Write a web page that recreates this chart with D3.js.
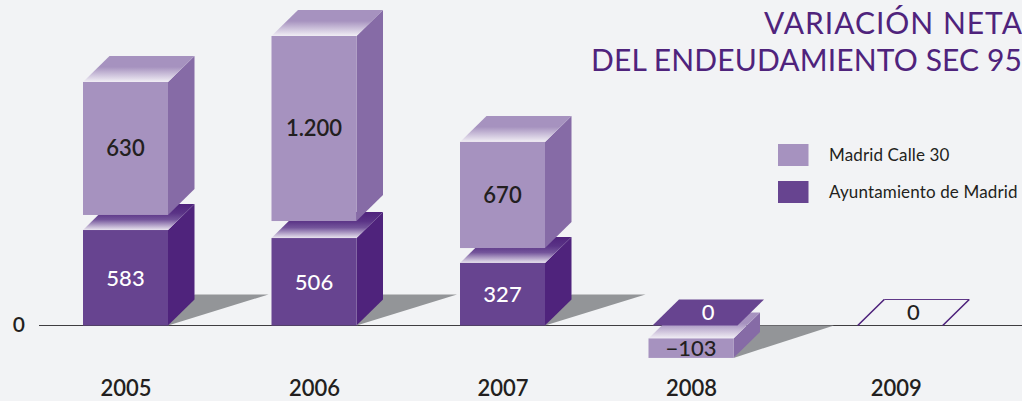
<!DOCTYPE html>
<html><head><meta charset="utf-8">
<script src="https://cdnjs.cloudflare.com/ajax/libs/d3/7.8.5/d3.min.js"></script>
<style>
html,body{margin:0;padding:0;background:#f2f3f5;overflow:hidden}
svg{display:block}
text{font-family:Lato,"Open Sans",sans-serif}
</style></head><body>
<svg id="c" width="1022" height="401"></svg>
<script>
// Data as printed on the chart
const years = [2005, 2006, 2007, 2008, 2009];
const ayuntamiento = [583, 506, 327, 0, 0];
const calle30 = [630, 1200, 670, -103, 0];
const seriesNames = ["Madrid Calle 30", "Ayuntamiento de Madrid"];
const titleLines = ["VARIACIÓN NETA", "DEL ENDEUDAMIENTO SEC 95"];
const zeroTick = [0];
// The reference's bars are not to scale with their labels: these are the
// magnitudes as drawn in the same axis units.
const ayuntamientoDrawn = [583, 534, 382, 0, 0];
const calle30DrawnStart = [675, 638, 473, -79, 0];
const calle30DrawnEnd = [1487, 1768, 1121, -198, 0];
// Category slots as spaced in the picture (2009 sits a little further out)
const slots = [0, 1, 2, 3, 4.11];

const svg = d3.select("#c");
const C = {bg:"#f2f3f5", light:"#a692bf", lightSide:"#866ba6", dark:"#674490", darkSide:"#4f237c", shadow:"#939598", ink:"#231f20", title:"#4f237c"};
const W = 85, DX = 26.5, DY = 26;
const y = d3.scaleLinear().domain([0, 1800]).range([325.5, 30.75]);
const slot = d3.scaleOrdinal(years, slots);
const xs = d3.scaleLinear().domain([0, 3]).range([83, 648.5]);
const x = yr => xs(slot(yr));
const fmt = d3.formatLocale({decimal:",", thousands:".", grouping:[3], currency:["","€"], minus:"−"}).format(",d");

const defs = svg.append("defs");
function grad(id, stops){
  const g = defs.append("linearGradient").attr("id", id).attr("x1",0).attr("y1",0).attr("x2",0).attr("y2",1);
  stops.forEach(([o,c]) => g.append("stop").attr("offset",o).attr("stop-color",c));
}
grad("topLight", [[0,"#a692bf"],[.42,"#a692bf"],[1,"#f1eef5"]]);
grad("topDark", [[0,"#4f237c"],[.35,"#5a3386"],[.6,"#74559b"],[1,"#e9e4ef"]]);

const poly = pts => d3.line()(pts) + "Z";

// Baseline and zero tick through the axis, underneath the bars
const axisG = svg.append("g").attr("transform","translate(39,0)")
  .call(d3.axisLeft(y).offset(0).tickValues(zeroTick).tickSize(-983).tickPadding(14).tickFormat(d3.format("d")));
axisG.select(".domain").remove();
axisG.selectAll("line").attr("stroke","#3f3d40").attr("stroke-width",1);
axisG.selectAll("text").attr("font-size",21).attr("font-weight",600).attr("fill",C.ink).attr("x",-14);

const g = svg.append("g");

function shadow(yr, top, bottom){
  const l = x(yr) + W;
  g.append("path").attr("fill",C.shadow)
    .attr("d", poly([[l,bottom],[l+DX,top],[l+DX+74,top]]));
}
function box(yr, yTop, yBottom, face, side, gradId, dx=0){
  const l = x(yr) + dx, r = l + W;
  const b = g.append("g");
  b.append("path").attr("fill",side).attr("d",poly([[r,yTop],[r+DX,yTop-DY],[r+DX,yBottom-DY],[r,yBottom]]));
  b.append("path").attr("fill",`url(#${gradId})`).attr("d",poly([[l,yTop],[l+DX,yTop-DY],[r+DX,yTop-DY],[r,yTop]]));
  b.append("rect").attr("x",l).attr("y",yTop).attr("width",W).attr("height",yBottom-yTop).attr("fill",face);
}
function label(cx, cy, v, fill, weight){
  g.append("text").attr("x",cx).attr("y",cy).attr("dy","0.36em").attr("text-anchor","middle")
    .attr("font-size",22).attr("font-weight",weight).attr("fill",fill).text(fmt(v));
}

years.forEach((yr,i) => {
  const l = x(yr), cx = l + W/2;
  const empty = ayuntamiento[i] === 0 && calle30[i] === 0;
  if (empty) {
    const b = y(0), t = b - DY;
    g.append("path").attr("fill","none").attr("stroke",C.darkSide).attr("stroke-width",1.6)
      .attr("d", d3.line()([[l,b],[l+DX,t]]) + d3.line()([[l+W,b],[l+W+DX,t]]));
    g.append("path").attr("fill","none").attr("stroke",C.darkSide).attr("stroke-width",.9)
      .attr("d", d3.line()([[l+DX,t],[l+W+DX,t]]));
    label(l + (W+DX)/2, b - DY/2, 0, C.ink, 500);
    return;
  }
  if (ayuntamiento[i] > 0) {
    const dt = y(ayuntamientoDrawn[i]);
    shadow(yr, y(0)-31, y(0));
    box(yr, dt, y(0), C.dark, C.darkSide, "topDark");
    label(cx, (dt+y(0))/2, ayuntamiento[i], "#fff", 500);
    const lt = y(calle30DrawnEnd[i]), lb = y(calle30DrawnStart[i]);
    box(yr, lt, lb, C.light, C.lightSide, "topLight");
    label(cx, (lt+lb)/2, calle30[i], C.ink, 600);
  } else {
    const lt = y(calle30DrawnStart[i]), lb = y(calle30DrawnEnd[i]);
    shadow(yr, y(0), lb);
    box(yr, lt, lb, C.light, C.lightSide, "topLight");
    label(cx, (lt+lb)/2, calle30[i], C.ink, 500);
    const off = 4, b = y(0), t = b - DY, a = l + off;
    g.append("path").attr("fill",C.dark).attr("d",poly([[a,b],[a+DX,t],[a+W+DX,t],[a+W,b]]));
    label(a + (W+DX)/2, b - DY/2, ayuntamiento[i], "#fff", 500);
  }
});

// Year labels through an axis
const yearCentres = d3.scaleOrdinal(years, years.map(yr => x(yr) + W/2 - (yr === 2009 ? 4.5 : 0)));
const yearAxis = svg.append("g").attr("transform","translate(0,380)")
  .call(d3.axisBottom(yearCentres).tickSize(0).tickPadding(0).tickFormat(d3.format("d")));
yearAxis.select(".domain").remove();
yearAxis.selectAll("text").attr("font-size",22).attr("font-weight",600).attr("fill",C.ink).attr("font-family","Lato");

// Title
svg.append("g").selectAll("text").data(titleLines).join("text")
  .attr("x",1022).attr("y",(d,i)=>33.5+i*37.5).attr("text-anchor","end")
  .attr("font-size",30).attr("fill",C.title)
  .attr("textLength",(d,i)=>i?431:258).attr("lengthAdjust","spacing").text(d=>d);

// Legend
const legend = svg.append("g").selectAll("g").data(seriesNames).join("g")
  .attr("transform",(d,i)=>`translate(778,${144+i*37})`);
legend.append("rect").attr("width",30.5).attr("height",22).attr("fill",(d,i)=>i?C.dark:C.light);
legend.append("text").attr("x",51).attr("y",17).attr("font-size",17).attr("fill",C.ink).attr("letter-spacing",".14").text(d=>d);
</script>
</body></html>
